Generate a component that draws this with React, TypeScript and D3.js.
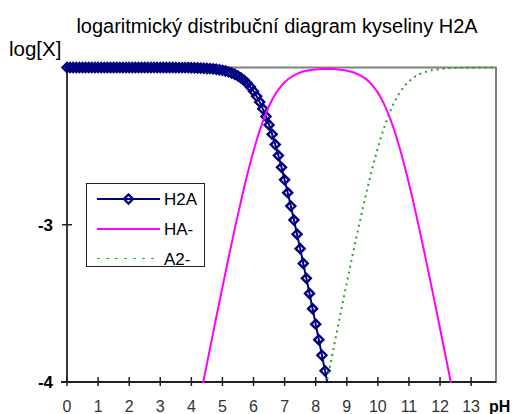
import * as d3 from "d3";

// pH categories (0.0 .. 13.8)
const PH = [
  0, 0.1, 0.2, 0.3, 0.4, 0.5, 0.6, 0.7, 0.8, 0.9,
  1, 1.1, 1.2, 1.3, 1.4, 1.5, 1.6, 1.7, 1.8, 1.9,
  2, 2.1, 2.2, 2.3, 2.4, 2.5, 2.6, 2.7, 2.8, 2.9,
  3, 3.1, 3.2, 3.3, 3.4, 3.5, 3.6, 3.7, 3.8, 3.9,
  4, 4.1, 4.2, 4.3, 4.4, 4.5, 4.6, 4.7, 4.8, 4.9,
  5, 5.1, 5.2, 5.3, 5.4, 5.5, 5.6, 5.7, 5.8, 5.9,
  6, 6.1, 6.2, 6.3, 6.4, 6.5, 6.6, 6.7, 6.8, 6.9,
  7, 7.1, 7.2, 7.3, 7.4, 7.5, 7.6, 7.7, 7.8, 7.9,
  8, 8.1, 8.2, 8.3, 8.4, 8.5, 8.6, 8.7, 8.8, 8.9,
  9, 9.1, 9.2, 9.3, 9.4, 9.5, 9.6, 9.7, 9.8, 9.9,
  10, 10.1, 10.2, 10.3, 10.4, 10.5, 10.6, 10.7, 10.8, 10.9,
  11, 11.1, 11.2, 11.3, 11.4, 11.5, 11.6, 11.7, 11.8, 11.9,
  12, 12.1, 12.2, 12.3, 12.4, 12.5, 12.6, 12.7, 12.8, 12.9,
  13, 13.1, 13.2, 13.3, 13.4, 13.5, 13.6, 13.7, 13.8,
];

// log[H2A], starts at pH 0.0
const H2A_START = 0;
const H2A = [
  -2, -2, -2, -2, -2, -2, -2, -2, -2, -2,
  -2, -2, -2, -2, -2, -2, -2, -2, -2, -2,
  -2, -2, -2, -2, -2, -2, -2, -2, -2, -2,
  -2, -2, -2, -2, -2, -2.001, -2.001, -2.001, -2.001, -2.001,
  -2.002, -2.002, -2.003, -2.004, -2.005, -2.006, -2.007, -2.009, -2.011, -2.014,
  -2.018, -2.022, -2.028, -2.035, -2.043, -2.054, -2.067, -2.082, -2.101, -2.124,
  -2.151, -2.183, -2.22, -2.263, -2.311, -2.365, -2.425, -2.49, -2.56, -2.635,
  -2.714, -2.796, -2.881, -2.97, -3.06, -3.152, -3.246, -3.341, -3.437, -3.534,
  -3.632, -3.731, -3.83, -3.929, -4.029,
];

// log[HA-], starts at pH 4.3
const HA_START = 43;
const HA = [
  -4.084, -3.985, -3.886, -3.787, -3.689, -3.591, -3.494,
  -3.398, -3.302, -3.208, -3.115, -3.023, -2.934, -2.847, -2.762, -2.681, -2.604,
  -2.531, -2.463, -2.4, -2.343, -2.291, -2.245, -2.205, -2.17, -2.14, -2.115,
  -2.094, -2.076, -2.062, -2.05, -2.04, -2.032, -2.026, -2.021, -2.017, -2.014,
  -2.012, -2.011, -2.01, -2.009, -2.009, -2.009, -2.01, -2.012, -2.014, -2.016,
  -2.02, -2.025, -2.03, -2.038, -2.047, -2.058, -2.071, -2.088, -2.108, -2.132,
  -2.16, -2.194, -2.233, -2.277, -2.327, -2.382, -2.444, -2.51, -2.582, -2.658,
  -2.738, -2.821, -2.907, -2.996, -3.087, -3.18, -3.274, -3.369, -3.465, -3.562,
  -3.66, -3.758, -3.856, -3.955, -4.054,
];

// log[A2-], starts at pH 8.3
const A2_START = 83;
const A2 = [
  -4.059, -3.959, -3.859, -3.76, -3.662, -3.564, -3.466,
  -3.37, -3.275, -3.18, -3.088, -2.997, -2.908, -2.821, -2.738, -2.658, -2.582,
  -2.51, -2.444, -2.383, -2.327, -2.277, -2.232, -2.194, -2.16, -2.132, -2.108,
  -2.088, -2.071, -2.057, -2.046, -2.037, -2.03, -2.024, -2.019, -2.015, -2.012,
  -2.01, -2.008, -2.006, -2.005, -2.004, -2.003, -2.003, -2.002, -2.002, -2.001,
  -2.001, -2.001, -2.001, -2, -2, -2, -2, -2, -2,
];

const X_TICKS = [0, 1, 2, 3, 4, 5, 6, 7, 8, 9, 10, 11, 12, 13];
const Y_TICKS = [-3, -4];

const FONT = "Arial, 'Liberation Sans', sans-serif";
const NAVY = "#000080";
const MAGENTA = "#ff00ff";
const GREEN = "#339933";

const W = 527;
const H = 414;
const left = 67;
const right = 496;
const top = 67.5;
const bottom = 382;

type Pt = { ph: number; v: number };

const toPoints = (start: number, vals: number[]): Pt[] =>
  vals.map((v, i) => ({ ph: PH[start + i], v }));

const diamond = (cx: number, cy: number, r: number) =>
  `M${cx},${cy - r}L${cx + r},${cy}L${cx},${cy + r}L${cx - r},${cy}Z`;

export default function App() {
  const x = d3.scaleLinear().domain([0, 13.8]).range([left, right]);
  const y = d3.scaleLinear().domain([-4, -2]).range([bottom, top]);

  const line = d3
    .line<Pt>()
    .x((d) => x(d.ph))
    .y((d) => y(d.v));

  const h2a = toPoints(H2A_START, H2A);
  const ha = toPoints(HA_START, HA);
  const a2 = toPoints(A2_START, A2);

  return (
    <svg
      width={W}
      height={H}
      style={{ position: "absolute", left: 0, top: 0, background: "#fff" }}
      fontFamily={FONT}
    >
      <defs>
        <clipPath id="plotClip">
          <rect x={0} y={0} width={W} height={bottom + 1} />
        </clipPath>
      </defs>

      <text x={277} y={33} textAnchor="middle" fontSize={20} fill="#000">
        logaritmický distribuční diagram kyseliny H2A
      </text>
      <text x={9} y={56} fontSize={20.5} fill="#000">
        log[X]
      </text>

      {/* plot area border */}
      <rect
        x={left}
        y={top}
        width={right - left}
        height={bottom - top}
        fill="none"
        stroke="#808080"
        strokeWidth={2}
      />

      {/* axes */}
      <line x1={left} x2={left} y1={top} y2={bottom} stroke="#222" strokeWidth={1.5} />
      <line x1={left - 6} x2={right} y1={bottom} y2={bottom} stroke="#222" strokeWidth={2} />
      {X_TICKS.map((t) => (
        <g key={t}>
          <line x1={x(t)} x2={x(t)} y1={bottom - 5} y2={bottom + 4} stroke="#222" strokeWidth={1.5} />
          <text x={x(t)} y={412} textAnchor="middle" fontSize={16} fill="#333">
            {t}
          </text>
        </g>
      ))}
      <text x={489} y={412} fontSize={16} fontWeight="bold" fill="#000">
        pH
      </text>
      {Y_TICKS.map((t) => (
        <g key={t}>
          <line x1={left - 5} x2={left + 5} y1={y(t)} y2={y(t)} stroke="#222" strokeWidth={1.5} />
          <text x={53} y={y(t) + 6} textAnchor="end" fontSize={17} fontWeight="bold" fill="#000">
            {t}
          </text>
        </g>
      ))}

      <g clipPath="url(#plotClip)">
        <path d={line(h2a) ?? ""} fill="none" stroke={NAVY} strokeWidth={2} />
        {h2a
          .filter((d) => d.v >= -4)
          .map((d, i) => (
            <path
              key={i}
              d={diamond(x(d.ph), y(d.v), 4.5)}
              fill="none"
              stroke={NAVY}
              strokeWidth={2.4}
            />
          ))}
        <path d={line(ha) ?? ""} fill="none" stroke={MAGENTA} strokeWidth={2} />
        <path
          d={line(a2) ?? ""}
          fill="none"
          stroke={GREEN}
          strokeWidth={2}
          strokeDasharray="2,4"
        />
      </g>

      {/* legend */}
      <g>
        <rect x={86.5} y={183.5} width={118} height={83} fill="#fff" stroke="#222" strokeWidth={1} />
        <line x1={97} x2={160} y1={199} y2={199} stroke={NAVY} strokeWidth={2} />
        <path d={diamond(128.5, 199, 4.5)} fill="none" stroke={NAVY} strokeWidth={2.4} />
        <text x={164} y={205} fontSize={17} fill="#000">H2A</text>
        <line x1={97} x2={160} y1={229} y2={229} stroke={MAGENTA} strokeWidth={2} />
        <text x={164} y={235} fontSize={17} fill="#000">HA-</text>
        <line
          x1={97}
          x2={160}
          y1={258.5}
          y2={258.5}
          stroke="#22bb22"
          strokeWidth={1.2}
          strokeDasharray="3,6"
        />
        <text x={164} y={264.5} fontSize={17} fill="#000">A2-</text>
      </g>
    </svg>
  );
}
